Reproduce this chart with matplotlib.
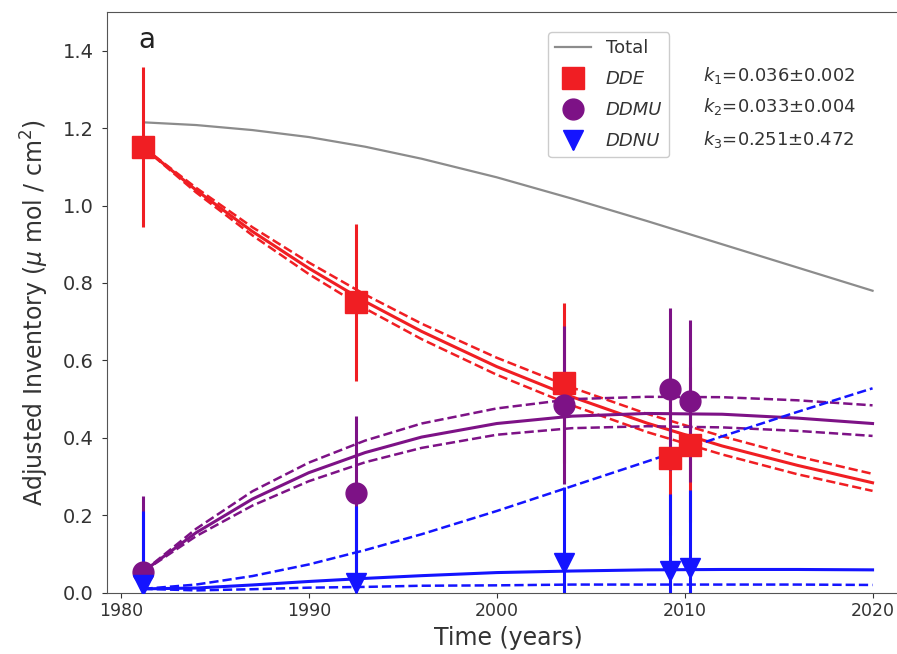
import matplotlib
matplotlib.use("Agg")
import matplotlib.pyplot as plt

# Observations
obs_years = [1981.2, 1992.5, 2003.6, 2009.2, 2010.3]
dde = [1.152, 0.750, 0.542, 0.348, 0.382]
dde_err = [0.207, 0.203, 0.206, 0.200, 0.200]
ddmu = [0.054, 0.257, 0.485, 0.526, 0.495]
ddmu_err = [0.195, 0.200, 0.205, 0.210, 0.210]
ddnu = [0.020, 0.024, 0.078, 0.056, 0.064]
ddnu_err = [0.190, 0.200, 0.195, 0.200, 0.200]

# Fitted curves (values read at these years)
curve_years = [1981.2, 1984, 1987, 1990, 1993, 1996, 2000, 2004, 2008, 2012, 2016, 2020]
total = [1.215, 1.208, 1.195, 1.177, 1.152, 1.121, 1.073, 1.018, 0.960, 0.900, 0.840, 0.780]
dde_fit = [1.150, 1.040, 0.933, 0.838, 0.752, 0.675, 0.584, 0.506, 0.438, 0.379, 0.329, 0.284]
dde_hi = [1.150, 1.046, 0.944, 0.853, 0.770, 0.695, 0.607, 0.530, 0.462, 0.404, 0.352, 0.307]
dde_lo = [1.150, 1.034, 0.923, 0.823, 0.734, 0.655, 0.563, 0.484, 0.415, 0.357, 0.306, 0.263]
ddmu_fit = [0.055, 0.155, 0.242, 0.310, 0.362, 0.402, 0.437, 0.456, 0.463, 0.461, 0.451, 0.437]
ddmu_hi = [0.055, 0.165, 0.262, 0.336, 0.393, 0.437, 0.476, 0.500, 0.506, 0.505, 0.497, 0.484]
ddmu_lo = [0.055, 0.146, 0.225, 0.288, 0.337, 0.374, 0.408, 0.425, 0.430, 0.427, 0.418, 0.405]
ddnu_fit = [0.010, 0.012, 0.020, 0.029, 0.037, 0.044, 0.052, 0.056, 0.059, 0.060, 0.060, 0.059]
ddnu_hi = [0.010, 0.021, 0.043, 0.073, 0.110, 0.151, 0.211, 0.275, 0.339, 0.404, 0.467, 0.528]
ddnu_lo = [0.010, 0.006, 0.009, 0.013, 0.015, 0.018, 0.019, 0.021, 0.021, 0.021, 0.021, 0.020]

rate_labels = [r'$k_1$=0.036±0.002', r'$k_2$=0.033±0.004', r'$k_3$=0.251±0.472']

RED = '#f01e23'
PURPLE = '#7d1286'
BLUE = '#1414ff'
GRAY = '#8c8c8c'

fig = plt.figure(figsize=(8.97, 6.54), dpi=100)
W, H = 897, 654
ax = fig.add_axes([107 / W, 61.3 / H, 802 / W, 580.7 / H])

ax.plot(curve_years, total, color=GRAY, lw=1.6, label='Total', zorder=2)

ax.plot(curve_years, dde_fit, color=RED, lw=2.2, zorder=2)
ax.plot(curve_years, dde_hi, color=RED, lw=1.8, ls='--', zorder=2)
ax.plot(curve_years, dde_lo, color=RED, lw=1.8, ls='--', zorder=2)

ax.plot(curve_years, ddmu_fit, color=PURPLE, lw=2.2, zorder=2)
ax.plot(curve_years, ddmu_hi, color=PURPLE, lw=1.8, ls='--', zorder=2)
ax.plot(curve_years, ddmu_lo, color=PURPLE, lw=1.8, ls='--', zorder=2)

ax.plot(curve_years, ddnu_fit, color=BLUE, lw=2.2, zorder=2)
ax.plot(curve_years, ddnu_hi, color=BLUE, lw=1.8, ls='--', zorder=2)
ax.plot(curve_years, ddnu_lo, color=BLUE, lw=1.8, ls='--', zorder=2)

ax.errorbar(obs_years, dde, yerr=dde_err, fmt='s', color=RED, ms=16,
            elinewidth=2.2, capsize=0, label='DDE', zorder=3)
ax.errorbar(obs_years, ddmu, yerr=ddmu_err, fmt='o', color=PURPLE, ms=15,
            elinewidth=2.2, capsize=0, label='DDMU', zorder=3)
ax.errorbar(obs_years, ddnu, yerr=ddnu_err, fmt='v', color=BLUE, ms=15,
            elinewidth=2.2, capsize=0, label='DDNU', zorder=3)

ax.set_xlim(1979.26, 2021.94)
ax.set_ylim(0, 1.5)
ax.set_xticks([1980, 1990, 2000, 2010, 2020])
ax.set_yticks([0.0, 0.2, 0.4, 0.6, 0.8, 1.0, 1.2, 1.4])
ax.set_yticklabels(['0.0', '0.2', '0.4', '0.6', '0.8', '1.0', '1.2', '1.4'])
ax.tick_params(axis='x', labelsize=12.5, colors='#333333')
ax.tick_params(axis='y', labelsize=14, colors='#333333', pad=6)
for s in ax.spines.values():
    s.set_color('#555555')
ax.spines['right'].set_visible(False)

ax.set_xlabel('Time (years)', fontsize=17, color='#333333', labelpad=4)
ax.set_ylabel(r'Adjusted Inventory ($\mu$ mol / cm$^2$)', fontsize=17, color='#333333')
ax.yaxis.set_label_coords(-0.07, 0.483)

ax.text(0.039, 0.952, 'a', transform=ax.transAxes, fontsize=20, va='center', ha='left', color='#222222')

handles, labels = ax.get_legend_handles_labels()
leg = ax.legend(handles, labels, loc='upper left', bbox_to_anchor=(0.55, 0.9655),
                borderaxespad=0, fontsize=13, numpoints=1, labelspacing=0.72,
                framealpha=1, edgecolor='#cccccc')
for t in leg.get_texts()[1:]:
    t.set_style('italic')
for t in leg.get_texts():
    t.set_color('#333333')

for lab, yy in zip(rate_labels, [0.8915, 0.838, 0.781]):
    ax.text(0.743, yy, lab, transform=ax.transAxes, fontsize=13, va='center', ha='left', color='#333333')

fig.savefig('out.png', dpi=100)
